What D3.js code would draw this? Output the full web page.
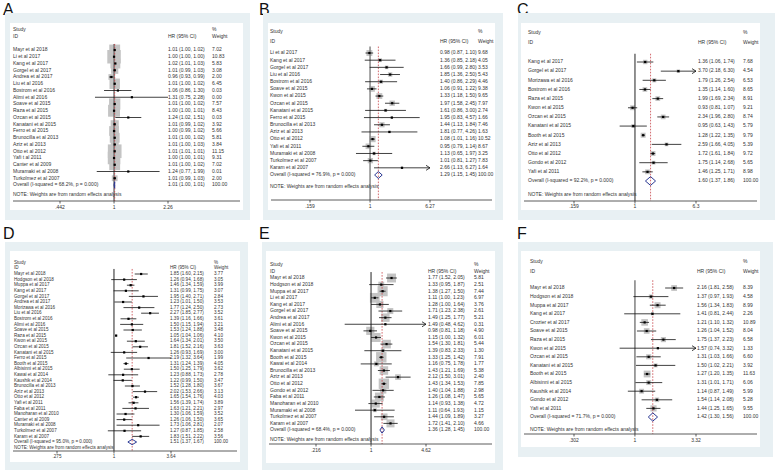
<!DOCTYPE html>
<html><head><meta charset="utf-8">
<script src="https://cdn.jsdelivr.net/npm/d3@7"></script>
<style>
body{margin:0;background:#fff}
svg{display:block}
text{font-family:"Liberation Sans",Arial,sans-serif}
</style>
</head><body>
<svg id="chart" width="778" height="476"></svg>
<script>
// ---------- Panel A ----------
const aStudies = ["Mayr et al 2018","Li et al 2017","Kang et al 2017","Gorgel et al 2017","Andrea et al 2017","Liu et al 2016","Bostrom et al 2016","Alimi et al 2016","Soave et al 2015","Raza et al 2015","Ozcan et al 2015","Kanatani et al 2015","Ferro et al 2015","Brunocilla et al 2013","Aziz et al 2013","Otto et al 2012","Yafi t al 2011","Canter et al 2009","Muramaki et al 2008","Turkolmez et al 2007"];
const aHR     = [1.01,1.00,1.02,1.01,0.96,1.01,1.06,1.31,1.01,1.00,1.24,1.01,1.00,1.01,1.01,1.01,1.00,1.01,1.24,1.01];
const aLower  = [1.00,1.00,1.01,0.99,0.93,1.00,0.86,0.75,1.00,1.00,1.02,0.99,0.99,1.00,1.00,1.01,1.00,1.00,0.77,0.99];
const aUpper  = [1.02,1.00,1.03,1.03,0.99,1.02,1.30,2.28,1.02,1.01,1.51,1.02,1.02,1.02,1.03,1.01,1.01,1.02,1.99,1.03];
const aWeight = [7.02,10.83,5.83,3.08,2.00,6.45,0.03,0.00,7.57,8.43,0.03,3.92,5.66,5.81,3.84,11.15,9.31,7.02,0.01,2.00];
const aOverall = [1.01,1.00,1.01];
const aHet = "Overall  (I-squared = 68.2%, p = 0.000)";
const aTicks = [".442","1","2.26"];

// ---------- Panel B ----------
const bStudies = ["Li et al 2017","Kang et al 2017","Gorgel et al 2017","Liu et al 2016","Bostrom et al 2016","Soave et al 2015","Kwon et al 2015","Ozcan et al 2015","Kanatani et al 2015","Ferro et al 2015","Brunocilla et al 2013","Aziz et al 2013","Otto et al 2012","Yafi et al 2011","Muramaki et al 2008","Turkolmez et al 2007","Karam et al 2007"];
const bHR     = [0.98,1.36,1.66,1.85,1.40,1.06,1.33,1.97,1.61,1.95,1.44,1.81,1.08,0.95,1.13,1.01,2.66];
const bLower  = [0.87,0.85,0.99,1.36,0.86,0.91,1.18,1.58,0.86,0.83,1.13,0.77,1.01,0.79,0.65,0.81,1.13];
const bUpper  = [1.10,2.18,2.80,2.50,2.29,1.22,1.50,2.45,3.00,4.57,1.84,4.26,1.16,1.14,1.97,1.27,6.27];
const bWeight = [9.68,4.05,3.53,5.43,4.46,9.38,9.65,7.97,2.74,1.66,7.46,1.63,10.52,8.67,3.25,7.83,1.64];
const bOverall = [1.29,1.15,1.45];
const bHet = "Overall  (I-squared = 76.9%, p = 0.000)";
const bTicks = [".159","1","6.27"];

// ---------- Panel C ----------
const cStudies = ["Kang et al 2017","Gorgel et al 2017","Morizawa et al 2016","Bostrom et al 2016","Raza et al 2015","Kwon et al 2015","Ozcan et al 2015","Kanatani et al 2015","Booth et al 2015","Aziz et al 2013","Otto et al 2012","Gondo et al 2012","Yafi et al 2011"];
const cHR     = [1.36,3.70,1.79,1.35,1.99,0.93,2.34,0.95,1.28,2.59,1.72,1.75,1.46];
const cLower  = [1.06,2.18,1.26,1.14,1.69,0.81,1.96,0.63,1.22,1.66,1.61,1.14,1.25];
const cUpper  = [1.74,6.30,2.54,1.60,2.34,1.07,2.80,1.43,1.35,4.05,1.84,2.68,1.71];
const cWeight = [7.68,4.54,6.53,8.65,8.91,9.21,8.74,5.79,9.79,5.39,9.72,5.65,8.98];
const cOverall = [1.60,1.37,1.86];
const cHet = "Overall  (I-squared = 92.2%, p = 0.000)";
const cTicks = [".159","1","6.3"];

// ---------- Panel D ----------
const dStudies = ["Mayr et al 2018","Hodgson et al 2018","Muppa et al 2017","Kang et al 2017","Gorgel et al 2017","Andrea et al 2017","Morizawa et al 2016","Liu et al 2016","Bostrom et al 2016","Alimi et al 2016","Soave et al 2015","Raza et al 2015","Kwon et al 2015","Ozcan et al 2015","Kanatani et al 2015","Ferro et al 2015","Booth et al 2015","Albisinni et al 2015","Kawai et al 2014","Kaushik et al 2014","Brunocilla et al 2013","Aziz et al 2013","Otto et al 2012","Yafi et al 2011","Faba et al 2011","Manoharan et al 2010","Canter et al 2009","Muramaki et al 2008","Turkolmez et al 2007","Karam et al 2007"];
const dHR     = [1.85,1.26,1.46,1.31,1.95,1.23,1.77,2.27,1.39,1.50,1.53,1.05,1.64,1.81,1.26,2.19,1.31,1.50,1.23,1.22,1.52,2.02,1.65,1.56,1.63,1.30,1.26,1.73,1.27,1.83];
const dLower  = [1.60,0.94,1.34,0.99,1.40,1.01,1.24,1.85,1.16,1.15,1.24,1.04,1.34,1.52,0.93,1.32,1.24,1.25,0.88,0.99,1.28,1.53,1.54,1.39,1.21,1.06,1.06,1.06,0.87,1.51];
const dUpper  = [2.15,1.68,1.59,1.75,2.71,1.50,2.50,2.77,1.66,1.94,1.88,1.06,2.01,2.16,1.69,3.64,1.39,1.79,1.73,1.50,1.80,2.66,1.76,1.74,2.21,1.59,1.50,2.81,1.85,2.22];
const dWeight = [3.77,3.05,3.99,3.07,2.84,3.53,2.73,3.52,3.61,3.21,3.48,4.10,3.50,3.63,3.00,1.99,4.05,3.62,2.78,3.47,3.67,3.13,4.03,3.89,2.97,3.52,3.65,2.07,2.58,3.56];
const dOverall = [1.51,1.37,1.67];
const dHet = "Overall  (I-squared = 95.0%, p = 0.000)";
const dTicks = [".275","1","3.64"];

// ---------- Panel E ----------
const eStudies = ["Mayr et al 2018","Hodgson et al 2018","Muppa et al 2017","Li et al 2017","Kang et al 2017","Gorgel et al 2017","Andrea et al 2017","Alimi et al 2016","Soave et al 2015","Kwon et al 2015","Ozcan et al 2015","Kanatani et al 2015","Booth et al 2015","Kawai et al 2014","Brunocilla et al 2013","Aziz et al 2013","Otto et al 2012","Gondo et al 2012","Faba et al 2011","Manoharan et al 2010","Muramaki et al 2008","Turkolmez et al 2007","Karam et al 2007"];
const eHR     = [1.77,1.33,1.38,1.11,1.28,1.71,1.49,1.49,0.98,1.15,1.54,1.39,1.33,1.16,1.43,2.12,1.43,1.40,1.26,1.14,1.11,1.44,1.72];
const eLower  = [1.52,0.95,1.27,1.00,1.00,1.23,1.25,0.48,0.81,1.00,1.30,0.83,1.25,0.75,1.21,1.50,1.34,1.04,1.08,0.93,0.64,1.09,1.41];
const eUpper  = [2.05,1.87,1.50,1.23,1.64,2.38,1.77,4.62,1.18,1.32,1.81,2.33,1.42,1.78,1.69,3.01,1.53,1.88,1.47,1.38,1.93,1.89,2.10];
const eWeight = [5.81,2.51,7.44,6.97,3.76,2.61,5.21,0.31,4.90,6.01,5.44,1.30,7.91,1.77,5.38,2.40,7.85,2.98,5.65,4.72,1.15,3.27,4.66];
const eOverall = [1.36,1.28,1.45];
const eHet = "Overall  (I-squared = 68.4%, p = 0.000)";
const eTicks = [".216","1","4.62"];

// ---------- Panel F ----------
const fStudies = ["Mayr et al 2018","Hodgson et al 2018","Muppa et al 2017","Kang et al 2017","Crozier et al 2017","Soave et al 2015","Raza et al 2015","Kwon et al 2015","Ozcan et al 2015","Kanatani et al 2015","Booth et al 2015","Albisinni et al 2015","Kaushik et al 2014","Gondo et al 2012","Yafi et al 2011"];
const fHR     = [2.16,1.37,1.56,1.41,1.21,1.26,1.75,1.57,1.31,1.50,1.27,1.31,1.14,1.54,1.44];
const fLower  = [1.81,0.97,1.34,0.81,1.10,1.04,1.37,0.74,1.03,1.02,1.20,1.01,0.87,1.14,1.25];
const fUpper  = [2.58,1.93,1.83,2.44,1.32,1.52,2.23,3.32,1.66,2.21,1.35,1.71,1.49,2.08,1.65];
const fWeight = [8.39,4.58,8.99,2.26,10.89,8.04,6.58,1.33,6.60,3.92,11.63,6.06,5.99,5.28,9.55];
const fOverall = [1.42,1.30,1.56];
const fHet = "Overall  (I-squared = 71.7%, p = 0.000)";
const fTicks = [".302","1","3.32"];

const noteText = "NOTE: Weights are from random effects analysis";

// ---------- layout (positions / styles only) ----------
const layouts = {
  A:{lx:3,ly:15,bg:[5,13,250,220],wh:[10,23,243,210],head:[30,37],row0:50,rowN:185,note:195,axis:201,tickY:208,xl:60,xr:168,sx:13,hx:168,wx:212,boxK:4.1,font:5,arrow:false,nullC:"#777",nullW:1.5},
  B:{lx:259,ly:15,bg:[263,13,503,220],wh:[268,23,495,210],head:[32,42],row0:53,rowN:175,note:187,axis:200,tickY:207,xl:310,xr:430,sx:270,hx:440,wx:478,boxK:1.9,font:5,arrow:true,nullC:"#888",nullW:1.5},
  C:{lx:517,ly:15,bg:[518,13,775,220],wh:[521,23,760,210],head:[33,43],row0:62,rowN:181,note:195,axis:201,tickY:207,xl:574,xr:696,sx:528,hx:698,wx:743,boxK:1.6,font:5,arrow:true,nullC:"#222",nullW:1},
  D:{lx:3,ly:239,bg:[5,242,248,470],wh:[10,251,240,462],head:[263,268],row0:274,rowN:442,note:448,axis:451,tickY:457,xl:57,xr:171,sx:14,hx:170,wx:214,boxK:1.0,font:4.6,arrow:false,nullC:"#222",nullW:1},
  E:{lx:259,ly:239,bg:[262,242,503,470],wh:[266,251,495,463],head:[265,272],row0:278,rowN:430,note:440,axis:444,tickY:451,xl:316,xr:426,sx:270,hx:428,wx:474,boxK:3.7,font:5,arrow:true,nullC:"#222",nullW:1},
  F:{lx:517,ly:239,bg:[518,242,773,457],wh:[521,251,760,447],head:[262,272],row0:288,rowN:417,note:430,axis:434,tickY:441,xl:574,xr:696,sx:530,hx:697,wx:743,boxK:2.0,font:5,arrow:true,nullC:"#888",nullW:1.6}
};

const panels = [
  {id:"A",studies:aStudies,hr:aHR,lo:aLower,hi:aUpper,wt:aWeight,ov:aOverall,het:aHet,ticks:aTicks},
  {id:"B",studies:bStudies,hr:bHR,lo:bLower,hi:bUpper,wt:bWeight,ov:bOverall,het:bHet,ticks:bTicks},
  {id:"C",studies:cStudies,hr:cHR,lo:cLower,hi:cUpper,wt:cWeight,ov:cOverall,het:cHet,ticks:cTicks},
  {id:"D",studies:dStudies,hr:dHR,lo:dLower,hi:dUpper,wt:dWeight,ov:dOverall,het:dHet,ticks:dTicks},
  {id:"E",studies:eStudies,hr:eHR,lo:eLower,hi:eUpper,wt:eWeight,ov:eOverall,het:eHet,ticks:eTicks},
  {id:"F",studies:fStudies,hr:fHR,lo:fLower,hi:fUpper,wt:fWeight,ov:fOverall,het:fHet,ticks:fTicks}
];

const svg = d3.select("#chart");
const f2 = d3.format(".2f");
const BG = "#e8f0f3", TXT = "#333";

panels.forEach(p => {
  const L = layouts[p.id];
  const g = svg.append("g");
  const n = p.studies.length;
  const tv = p.ticks.map(Number);
  const x = d3.scaleLog().domain([tv[0], tv[2]]).range([L.xl, L.xr]);
  const y = d3.scaleLinear().domain([0, n]).range([L.row0, L.rowN]);
  const step = (L.rowN - L.row0) / n;

  g.append("text").attr("x", L.lx).attr("y", L.ly).attr("font-size", 16).attr("fill", "#111").text(p.id);
  g.append("rect").attr("x", L.bg[0]).attr("y", L.bg[1]).attr("width", L.bg[2]-L.bg[0]).attr("height", L.bg[3]-L.bg[1]).attr("fill", BG);
  g.append("rect").attr("x", L.wh[0]).attr("y", L.wh[1]).attr("width", L.wh[2]-L.wh[0]).attr("height", L.wh[3]-L.wh[1]).attr("fill", "#fff");

  const fs = L.font;
  const txt = (tx, ty, s, anchor) => g.append("text").attr("x", tx).attr("y", ty).attr("font-size", fs)
      .attr("fill", TXT).attr("dominant-baseline", "middle").attr("text-anchor", anchor || "start").text(s);

  // header
  txt(L.sx, L.head[0], "Study");
  txt(L.sx, L.head[1], "ID");
  txt(L.hx, L.head[1], "HR (95% CI)");
  txt(L.wx, L.head[0], "%");
  txt(L.wx, L.head[1], "Weight");

  const top = L.row0 - step * 0.9;
  const rows = p.studies.map((s, i) => ({s, hr:p.hr[i], lo:p.lo[i], hi:p.hi[i], w:p.wt[i], i}));
  // weight boxes
  g.selectAll(".box").data(rows).join("rect")
    .attr("x", d => x(d.hr) - L.boxK*Math.sqrt(d.w)/2)
    .attr("y", d => y(d.i) - L.boxK*Math.sqrt(d.w)/2)
    .attr("width", d => L.boxK*Math.sqrt(d.w))
    .attr("height", d => L.boxK*Math.sqrt(d.w))
    .attr("fill", "#c4c4c4");

  // null line
  g.append("line").attr("x1", x(1)).attr("x2", x(1)).attr("y1", top).attr("y2", L.axis)
    .attr("stroke", L.nullC).attr("stroke-width", L.nullW);
  // overall dashed line
  g.append("line").attr("x1", x(p.ov[0])).attr("x2", x(p.ov[0])).attr("y1", top).attr("y2", L.axis)
    .attr("stroke", "#c8454a").attr("stroke-width", 0.8).attr("stroke-dasharray", "1.6,1.4");

  // CI lines
  g.selectAll(".ci").data(rows).join("line")
    .attr("x1", d => x(Math.max(d.lo, tv[0]))).attr("x2", d => x(Math.min(d.hi, tv[2])))
    .attr("y1", d => y(d.i)).attr("y2", d => y(d.i))
    .attr("stroke", "#111").attr("stroke-width", 0.8);
  // arrows for CIs reaching the axis limit
  g.selectAll(".arr").data(rows.filter(d => L.arrow && d.hi >= tv[2])).join("path")
    .attr("d", d => `M${x(tv[2])-4},${y(d.i)-2.5}L${x(tv[2])},${y(d.i)}L${x(tv[2])-4},${y(d.i)+2.5}`)
    .attr("fill", "none").attr("stroke", "#111").attr("stroke-width", 0.8);
  // point estimates
  g.selectAll(".pt").data(rows).join("rect")
    .attr("x", d => x(d.hr) - 1.1).attr("y", d => y(d.i) - 1.1)
    .attr("width", 2.2).attr("height", 2.2).attr("fill", "#000");

  // row texts
  rows.forEach(d => {
    txt(L.sx, y(d.i), d.s);
    txt(L.hx, y(d.i), `${f2(d.hr)} (${f2(d.lo)}, ${f2(d.hi)})`);
    txt(L.wx, y(d.i), f2(d.w));
  });

  // overall diamond
  const oy = y(n), h = step * 0.48;
  g.append("path")
    .attr("d", `M${x(p.ov[1])},${oy}L${x(p.ov[0])},${oy-h}L${x(p.ov[2])},${oy}L${x(p.ov[0])},${oy+h}Z`)
    .attr("fill", "none").attr("stroke", "#2c3a94").attr("stroke-width", 1);
  txt(L.sx, oy, p.het);
  txt(L.hx, oy, `${f2(p.ov[0])} (${f2(p.ov[1])}, ${f2(p.ov[2])})`);
  txt(L.wx, oy, "100.00");

  txt(L.sx, L.note, noteText);

  // axis
  g.append("line").attr("x1", L.wh[0] + 3).attr("x2", L.wh[2] - 3).attr("y1", L.axis).attr("y2", L.axis)
    .attr("stroke", "#333").attr("stroke-width", 0.8);
  p.ticks.forEach(t => {
    g.append("line").attr("x1", x(+t)).attr("x2", x(+t)).attr("y1", L.axis).attr("y2", L.axis + 2.5)
      .attr("stroke", "#333").attr("stroke-width", 0.8);
    txt(x(+t), L.tickY, t, "middle");
  });
});
</script>
</body></html>
